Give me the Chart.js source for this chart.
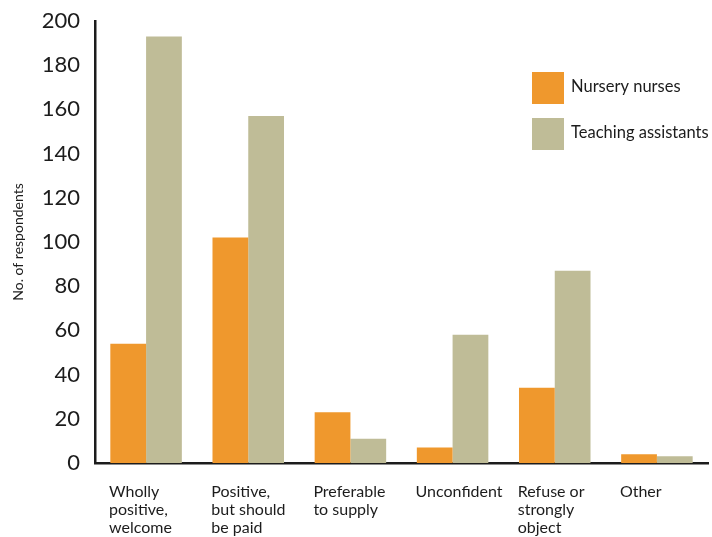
<!DOCTYPE html>
<html>
<head>
<meta charset="utf-8">
<script src="https://cdn.jsdelivr.net/npm/chart.js@4"></script>
<style>
    html, body { margin: 0; padding: 0; background: #fff; }
    #wrap { width: 712px; height: 537px; }
</style>
</head>
<body>
<div id="wrap"><canvas id="myChart"></canvas></div>
<script>
const categories = [
    ["Wholly", "positive,", "welcome"],
    ["Positive,", "but should", "be paid"],
    ["Preferable", "to supply"],
    ["Unconfident"],
    ["Refuse or", "strongly", "object"],
    ["Other"],
];
const nurseryNurses = [54, 102, 23, 7, 34, 4];
const teachingAssistants = [193, 157, 11, 58, 87, 3];
const yTicks = [0, 20, 40, 60, 80, 100, 120, 140, 160, 180, 200];

const ORANGE = "#EF982D";
const TAN = "#BFBC97";
const INK = "#1c1c1c";
const FONT = "Lato, 'Open Sans', sans-serif";

// legend drawn by hand: big squares to the right of the plot
const squareLegend = {
    id: "squareLegend",
    afterDraw(chart) {
        const ctx = chart.ctx;
        const area = chart.chartArea;
        const x = area.right - 176;
        let y = area.top + 51;
        ctx.save();
        ctx.font = `16.5px ${FONT}`;
        ctx.textBaseline = "middle";
        chart.data.datasets.forEach((ds) => {
            ctx.fillStyle = ds.backgroundColor;
            ctx.fillRect(x, y, 32, 32);
            ctx.fillStyle = INK;
            ctx.fillText(ds.label, x + 39, y + 15);
            y += 46;
        });
        ctx.restore();
    },
};

function main() {
    const ctx = document.getElementById("myChart");

    new Chart(ctx, {
        type: "bar",
        data: {
            labels: categories,
            datasets: [
                {
                    label: "Nursery nurses",
                    data: nurseryNurses,
                    backgroundColor: ORANGE,
                },
                {
                    label: "Teaching assistants",
                    data: teachingAssistants,
                    backgroundColor: TAN,
                },
            ],
        },
        options: {
            responsive: true,
            maintainAspectRatio: false,
            animation: false,
            layout: { padding: { top: 21, right: 4, left: 0, bottom: 0 } },
            datasets: {
                bar: { categoryPercentage: 0.7, barPercentage: 1.0 },
            },
            plugins: {
                legend: { display: false },
                tooltip: { enabled: false },
            },
            scales: {
                x: {
                    grid: { display: false, drawTicks: false },
                    border: { display: true, color: INK, width: 2.5 },
                    ticks: {
                        color: INK,
                        font: { family: FONT, size: 16, lineHeight: 1.13 },
                        align: "start",
                        labelOffset: -37,
                        padding: 20,
                        maxRotation: 0,
                        autoSkip: false,
                    },
                    afterFit: (s) => {
                        s.height = 74;
                        s.paddingLeft = 0;
                        s.paddingRight = 0;
                    },
                },
                y: {
                    min: 0,
                    max: 200,
                    afterBuildTicks: (s) => { s.ticks = yTicks.map((v) => ({ value: v })); },
                    grid: { display: false, drawTicks: false },
                    border: { display: true, color: INK, width: 2.5 },
                    ticks: {
                        color: INK,
                        font: { family: FONT, size: 22 },
                        padding: 15,
                    },
                    title: {
                        display: true,
                        text: "No. of respondents",
                        color: INK,
                        font: { family: FONT, size: 14 },
                        padding: { top: 10, bottom: 0 },
                    },
                    afterFit: (s) => {
                        s.width = 95;
                        s.paddingTop = 0;
                        s.paddingBottom = 0;
                    },
                },
            },
        },
        plugins: [squareLegend],
    });
}

main();
</script>
</body>
</html>
